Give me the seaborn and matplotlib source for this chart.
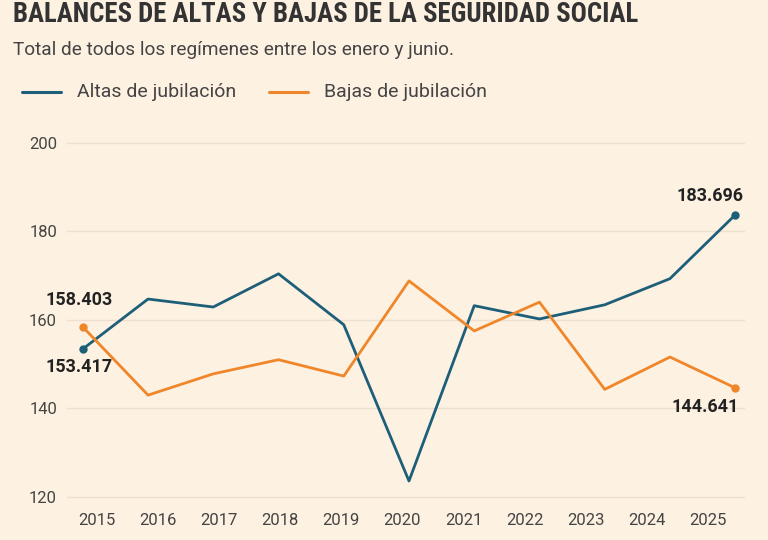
import matplotlib.pyplot as plt
import seaborn as sns
import pandas as pd

# Data (miles)
years = list(range(2015, 2026))
altas = [153.417, 164.7, 162.9, 170.4, 158.9, 123.6, 163.2, 160.2, 163.4, 169.3, 183.696]
bajas = [158.403, 143.0, 147.8, 151.0, 147.3, 168.8, 157.5, 164.0, 144.3, 151.6, 144.641]
series_names = ['Altas de jubilación', 'Bajas de jubilación']
y_ticks = [120, 140, 160, 180, 200]

bg = '#fdf1e2'
blue = '#1d5f78'
orange = '#f0862a'
text_dark = '#333333'

df = pd.DataFrame({'year': years * 2,
                   'value': altas + bajas,
                   'serie': [series_names[0]] * len(years) + [series_names[1]] * len(years)})

sns.set_theme(style='white')
plt.rcParams['font.family'] = ['Roboto', 'DejaVu Sans']

fig = plt.figure(figsize=(7.68, 5.4), dpi=100, facecolor=bg)
ax = fig.add_axes([0.087, 0.074, 0.883, 0.669], facecolor=bg)

sns.lineplot(data=df, x='year', y='value', hue='serie',
             palette=[blue, orange], linewidth=2, legend=False, ax=ax)

# end points
for vals, col in [(altas, blue), (bajas, orange)]:
    ax.plot([years[0], years[-1]], [vals[0], vals[-1]], 'o', color=col, markersize=5)

ax.set_xlim(years[0] - 0.245, years[-1] + 0.15)
ax.set_ylim(119.3, 200.9)
ax.set_yticks(y_ticks)
ax.grid(axis='y', color='#eee0cf', linewidth=1)
ax.grid(axis='x', visible=False)
for s in ax.spines.values():
    s.set_visible(False)

# tick labels sit a bit off the points, as in the original
tick_pos = [years[0] + 0.215 + i * 0.937 for i in range(len(years))]
ax.set_xticks(tick_pos)
ax.set_xticklabels([str(y) for y in years])
ax.tick_params(axis='x', length=0, pad=9, labelsize=12, labelcolor='#444444')
ax.tick_params(axis='y', length=0, pad=7, labelsize=12, labelcolor='#444444')
ax.set_xlabel('')
ax.set_ylabel('')

def fmt(v):
    return f'{v:.3f}'

lab = dict(fontsize=13, fontweight='bold', color='#222222')
ax.annotate(fmt(bajas[0]), (years[0], bajas[0]), xytext=(-37, 27),
            textcoords='offset pixels', ha='left', va='center', **lab)
ax.annotate(fmt(altas[0]), (years[0], altas[0]), xytext=(-37, -18),
            textcoords='offset pixels', ha='left', va='center', **lab)
ax.annotate(fmt(altas[-1]), (years[-1], altas[-1]), xytext=(8, 19),
            textcoords='offset pixels', ha='right', va='center', **lab)
ax.annotate(fmt(bajas[-1]), (years[-1], bajas[-1]), xytext=(4, -19),
            textcoords='offset pixels', ha='right', va='center', **lab)

# titles
fig.text(0.017, 0.999, 'BALANCES DE ALTAS Y BAJAS DE LA SEGURIDAD SOCIAL',
         fontsize=19.3, fontweight='bold', color=text_dark, va='top',
         family=['Roboto Condensed', 'Liberation Sans Narrow', 'DejaVu Sans'])
fig.text(0.017, 0.907, 'Total de todos los regímenes entre los enero y junio.',
         fontsize=13.7, color='#444444', va='center')

# legend
for x0, x1, xt, name, col in [(22, 61, 77, series_names[0], blue),
                              (269, 308, 324, series_names[1], orange)]:
    fig.add_artist(plt.Line2D([x0 / 768, x1 / 768], [0.829, 0.829], color=col,
                              linewidth=2.2, transform=fig.transFigure))
    fig.text(xt / 768, 0.829, name, fontsize=14, color='#444444', va='center')

fig.savefig('out.png', dpi=100, facecolor=bg)
